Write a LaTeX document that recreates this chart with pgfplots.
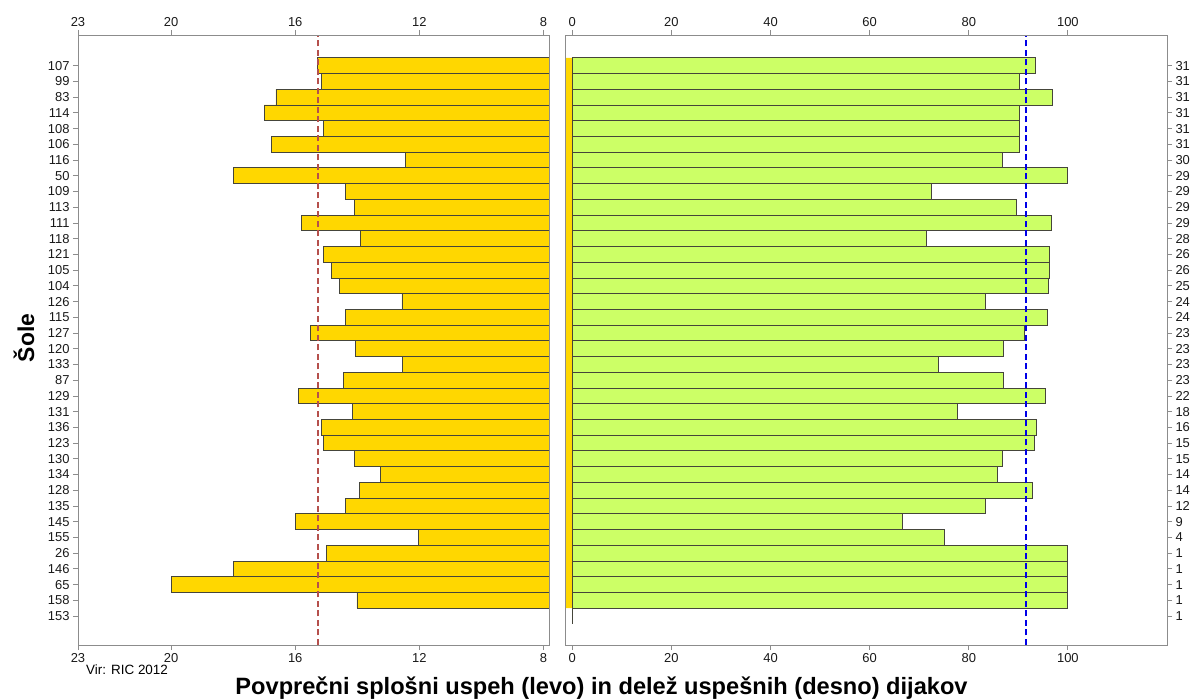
\documentclass[border=0pt]{standalone}
\usepackage{pgfplots}
\usepackage{pgfplotstable}
\pgfplotsset{compat=1.18}
\usepackage{fontspec}
\setmainfont{Liberation Sans}
\definecolor{goldbar}{HTML}{FFD700}
\definecolor{greenbar}{HTML}{CCFF66}
\definecolor{edgec}{HTML}{45453A}
\definecolor{axgray}{HTML}{8C8C8C}
\definecolor{reddash}{HTML}{B5504C}
\definecolor{bluedash}{HTML}{0000E6}

% idx 0 = bottom (school 153), idx 35 = top (school 107)
\pgfplotstableread{
idx left right strip
0  nan   0     nan
1  14.01 100   -5
2  20.00 100   -5
3  18.00 100   -5
4  15.00 100   -5
5  12.02 75.0  -5
6  16.00 66.7  -5
7  14.39 83.3  -5
8  13.92 92.9  -5
9  13.26 85.7  -5
10 14.10 86.7  -5
11 15.08 93.3  -5
12 15.14 93.75 -5
13 14.15 77.8  -5
14 15.90 95.45 -5
15 14.45 87.0  -5
16 12.53 73.9  -5
17 14.06 87.0  -5
18 15.52 91.3  -5
19 14.39 95.8  -5
20 12.56 83.3  -5
21 14.58 96.0  -5
22 14.84 96.2  -5
23 15.08 96.2  -5
24 13.90 71.4  -5
25 15.79 96.6  -5
26 14.10 89.7  -5
27 14.38 72.4  -5
28 18.00 100   -5
29 12.44 86.7  -5
30 16.77 90.3  -5
31 15.08 90.3  -5
32 17.00 90.3  -5
33 16.62 96.8  -5
34 15.14 90.3  -5
35 15.29 93.5  -5
}\data

\pgfplotsset{
  panel/.style={
    scale only axis,
    height=610bp,
    ymin=-1.84, ymax=36.95,
    axis line style={axgray, line width=0.8bp},
    every tick/.style={axgray, line width=0.8bp},
    major tick length=5bp,
    tick align=outside,
    ytick={0,...,35},
    tick label style={font=\fontsize{13}{15}\selectfont, text=black!90},
    /pgf/number format/assume math mode=true,
    clip=true,
  },
  leftpanel/.style={
    panel,
    at={(78bp,54bp)}, anchor=south west,
    width=471.5bp,
    xmin=7.805, xmax=23, x dir=reverse,
    xtick={8,12,16,20,23},
  },
  rightpanel/.style={
    panel,
    at={(565bp,54bp)}, anchor=south west,
    width=602bp,
    xmin=-1.47, xmax=120,
    xtick={0,20,40,60,80,100},
  },
  barsty/.style={xbar, bar width=1, bar shift=0pt, line width=0.9bp},
}

\begin{document}
\begin{tikzpicture}
\useasboundingbox (0,0) rectangle (1192bp,699bp);

% ---------- left panel ----------
\begin{axis}[leftpanel,
  xtick pos=left,
  ytick pos=left,
  yticklabels={153,158,65,146,26,155,145,135,128,134,130,123,136,131,129,87,133,120,127,115,126,104,105,121,118,111,113,109,50,116,106,108,114,83,99,107},
]
\addplot[barsty, fill=goldbar, draw=edgec] table[x=left, y=idx]{\data};
\addplot[color=reddash, line width=1.5bp, dash pattern=on 6bp off 3.5bp] coordinates {(15.26,-1.84) (15.26,36.95)};
\end{axis}
\begin{axis}[leftpanel,
  xtick pos=right, xticklabel pos=right,
  ytick=\empty,
]
\end{axis}

% ---------- right panel ----------
\begin{axis}[rightpanel,
  xtick pos=left,
  ytick pos=right, yticklabel pos=right,
  yticklabels={1,1,1,1,1,4,9,12,14,14,15,15,16,18,22,23,23,23,23,24,24,25,26,26,28,29,29,29,29,30,31,31,31,31,31,31},
]
\addplot[barsty, fill=goldbar, draw=none] table[x=strip, y=idx]{\data};
\addplot[barsty, fill=greenbar, draw=edgec] table[x=right, y=idx]{\data};
\addplot[color=bluedash, line width=1.5bp, dash pattern=on 6bp off 3.5bp] coordinates {(91.5,-1.84) (91.5,36.95)};
\end{axis}
\begin{axis}[rightpanel,
  xtick pos=right, xticklabel pos=right,
  ytick=\empty,
]
\end{axis}

% ---------- labels ----------
\node[rotate=90, anchor=base, inner sep=0pt, font=\fontsize{23}{26}\selectfont\bfseries] at (34bp,361bp) {Šole};
\node[anchor=base, inner sep=0pt, font=\fontsize{23.7}{26}\selectfont\bfseries] at (601.5bp,4.5bp) {Povprečni splošni uspeh (levo) in delež uspešnih (desno) dijakov};
\node[anchor=base west, inner sep=0pt, font=\fontsize{13.5}{15}\selectfont] at (86bp,25bp) {Vir: RIC 2012};
\end{tikzpicture}
\end{document}
